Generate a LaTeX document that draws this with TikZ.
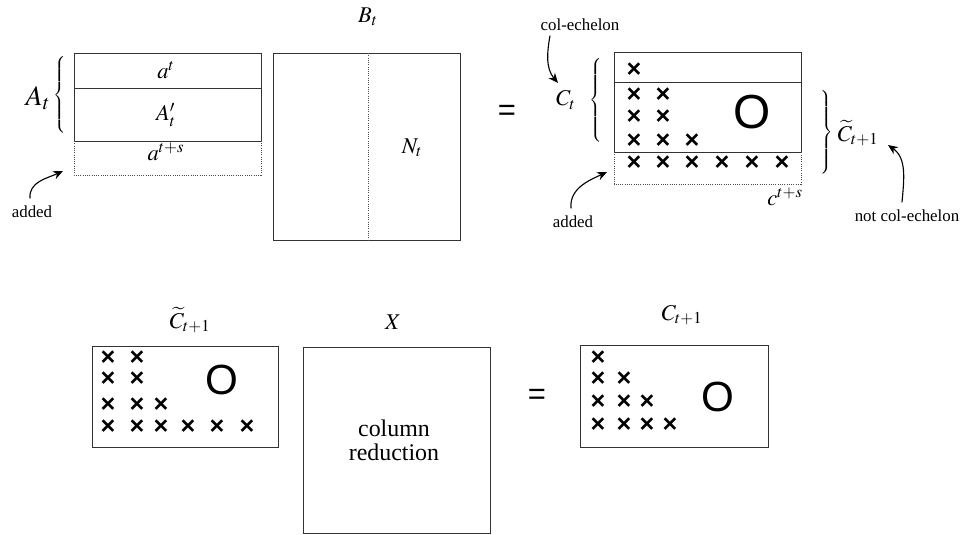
\documentclass[tikz,border=0pt]{standalone}
\usepackage{mathptmx}
\usepackage[no-math]{fontspec}
\setmainfont{Liberation Serif}
\newfontfamily\sansfont{Liberation Sans}
\usetikzlibrary{arrows.meta,positioning}

\tikzset{
  box/.style={draw=black!80, line width=0.7pt},
  addrow/.style={draw=black!70, line width=0.6pt, densely dotted},
  note/.style={font=\fontsize{12}{14}\selectfont, inner sep=1pt},
  mlbl/.style={font=\fontsize{16}{18}\selectfont, inner sep=1pt},
  bigtxt/.style={font=\fontsize{17}{20}\selectfont, align=center},
  xmark/.style={font=\sansfont\bfseries\fontsize{18}{18}\selectfont, inner sep=0pt},
  zero/.style={font=\sansfont\fontsize{34}{36}\selectfont, inner sep=0pt},
  eqsign/.style={font=\sansfont\fontsize{22}{24}\selectfont, inner sep=0pt},
  pointer/.style={-{Stealth[length=7pt, width=6pt]}, line width=0.8pt},
}
\newcommand{\brcL}[1]{$\left\{\vphantom{\rule[-#1]{0pt}{#1}}\right.$}
\newcommand{\brcR}[1]{$\left.\vphantom{\rule[-#1]{0pt}{#1}}\right\}$}

\begin{document}
\begin{tikzpicture}[x=0.25mm, y=-0.25mm]
    \useasboundingbox (0,0) rectangle (964,534);

    % A_t with the added row
    \draw[box] (74,53) rectangle (261,88);
    \draw[box] (74,88) rectangle (261,141);
    \draw[addrow] (74,141) -- (74,175) -- (261,175) -- (261,141);
    \node[mlbl] (at) at (166,70) {$a^t$};
    \node[mlbl] (atp) at (166,115) {$A'_t$};
    \node[mlbl] (ats) at (166,152) {$a^{t+s}$};
    \node[inner sep=0pt] (abrace) at (61,96) {\brcL{9.2mm}};
    \node[font=\fontsize{20}{22}\selectfont] (alabel) at (38,98) {$A_t$};
    \node[note] (added1) at (32,212) {added};
    \coordinate (tip1) at (63,171);
    \draw[pointer] (added1.north) ++(-2,-6) to[out=95, in=205] (tip1);

    % B_t with N_t
    \draw[box] (273,53) rectangle (460,240);
    \draw[addrow] (368,53) -- (368,240);
    \node[mlbl] (bt) at (368,17) {$B_t$};
    \node[mlbl] (nt) at (412,148) {$N_t$};

    \node[eqsign] (eq1) at (507,113) {=};

    % C_t with the added row
    \draw[box] (614,52) rectangle (801,82);
    \draw[box] (614,82) rectangle (801,152);
    \draw[addrow] (614,152) -- (614,184) -- (801,184) -- (801,152);
    \foreach \r/\n/\y in {1/1/70, 2/2/95, 3/2/117, 4/3/141, 5/6/163}
      \foreach \c in {1,...,\n} {
        \pgfmathsetmacro{\xx}{{634,663,692,722,752,782}[\c-1]}
        \node[xmark] (ct\r\c) at (\xx,\y) {×};
      }
    \node[zero] (ctzero) at (752,112) {O};
    \node[inner sep=0pt] (cbrace) at (597,101) {\brcL{10mm}};
    \node[mlbl] (clabel) at (566,100) {$C_t$};
    \node[note] (colech) at (580,25) {col-echelon};
    \coordinate (tip2) at (558,83);
    \draw[pointer] (colech.south) ++(-30,3) to[out=260, in=130] (tip2);
    \node[note] (added2) at (573,222) {added};
    \coordinate (tip3) at (607,172);
    \draw[pointer] (added2.north) ++(-2,-6) to[out=95, in=205] (tip3);
    \node[mlbl] (cts) at (785,197) {$c^{t+s}$};
    \node[inner sep=0pt] (rbrace) at (826,134) {\brcR{10.5mm}};
    \node[mlbl, anchor=west] (ctt) at (836,133) {$\widetilde{C}_{t+1}$};
    \node[note] (notech) at (907,216) {not col-echelon};
    \coordinate (tip4) at (888,145);
    \draw[pointer] (notech.north) ++(-5,-6) to[out=85, in=-35] (tip4);

    % bottom: C~_{t+1} X = C_{t+1}
    \draw[box] (92,346) rectangle (278,447);
    \foreach \r/\n/\y in {1/2/358, 2/2/379, 3/3/405, 4/6/427}
      \foreach \c in {1,...,\n} {
        \pgfmathsetmacro{\xx}{{108,137,161,188,217,247}[\c-1]}
        \node[xmark] (cu\r\c) at (\xx,\y) {×};
      }
    \node[zero, font=\sansfont\fontsize{30}{32}\selectfont] (cuzero) at (222,380) {O};
    \node[mlbl] (cul) at (190,320) {$\widetilde{C}_{t+1}$};

    \draw[box] (303,347) rectangle (490,533);
    \node[mlbl] (xl) at (393,322) {$X$};
    \node[bigtxt] (colred) at (394,440) {column\\[-3pt]reduction};

    \node[eqsign] (eq2) at (537,397) {=};

    \draw[box] (580,345) rectangle (768,447);
    \foreach \r/\n/\y in {1/1/358, 2/2/379, 3/3/402, 4/4/425}
      \foreach \c in {1,...,\n} {
        \pgfmathsetmacro{\xx}{{598,624,647,670}[\c-1]}
        \node[xmark] (cn\r\c) at (\xx,\y) {×};
      }
    \node[zero, font=\sansfont\fontsize{30}{32}\selectfont] (cnzero) at (718,397) {O};
    \node[mlbl] (cnl) at (682,315) {$C_{t+1}$};
\end{tikzpicture}
\end{document}
